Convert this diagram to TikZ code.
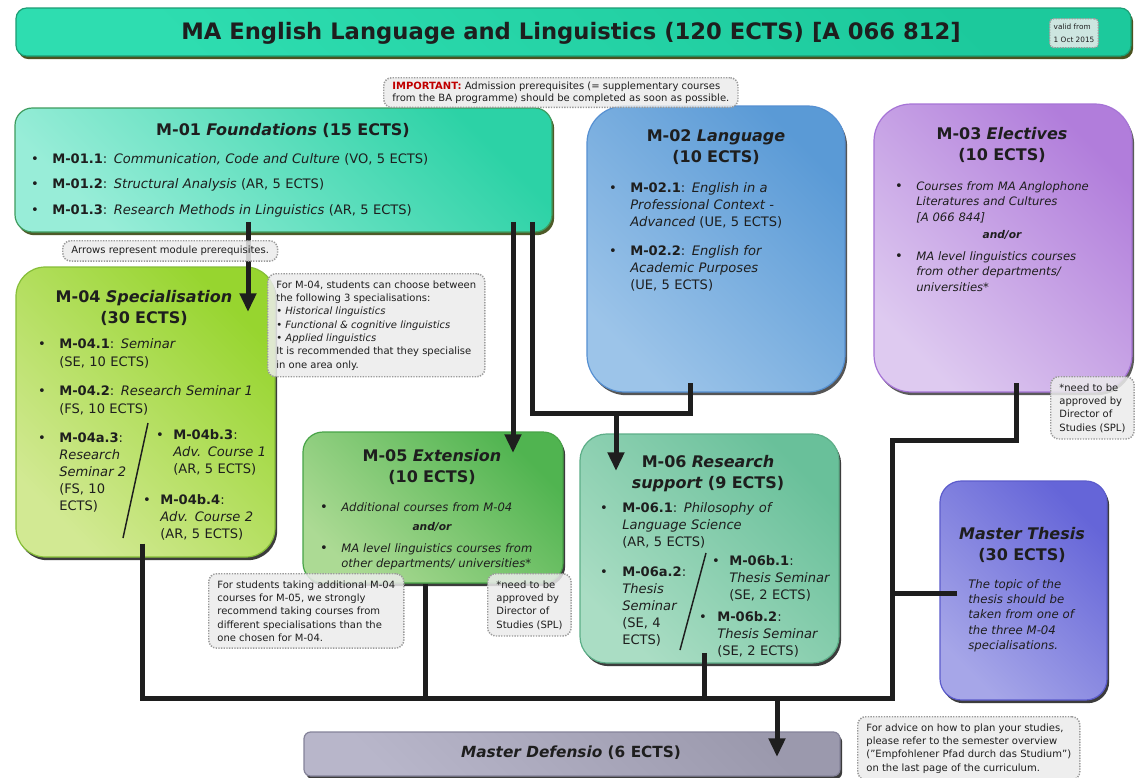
\documentclass[tikz,border=0pt]{standalone}
\usepackage{fontspec}
\setmainfont{DejaVu Sans}
\usepackage{tikz}
\usetikzlibrary{arrows.meta,fit,shadows}

\definecolor{ttldk}{HTML}{1CC99C}
\definecolor{ttllt}{HTML}{2EDDB0}
\definecolor{ttlln}{HTML}{1B9E74}
\definecolor{ttlsh}{HTML}{4B5320}
\definecolor{m01dk}{HTML}{2CD2A6}
\definecolor{m01lt}{HTML}{98EDD8}
\definecolor{m01ln}{HTML}{3E9C5E}
\definecolor{m01sh}{HTML}{4E5A28}
\definecolor{m02dk}{HTML}{5A9AD6}
\definecolor{m02lt}{HTML}{9CC4E9}
\definecolor{m02ln}{HTML}{5690D2}
\definecolor{m02sh}{HTML}{555555}
\definecolor{m03dk}{HTML}{B17DDB}
\definecolor{m03lt}{HTML}{DECAF0}
\definecolor{m03ln}{HTML}{A674D6}
\definecolor{m03sh}{HTML}{5A5A5A}
\definecolor{m04dk}{HTML}{97D52F}
\definecolor{m04lt}{HTML}{D2E993}
\definecolor{m04ln}{HTML}{86BE38}
\definecolor{m04sh}{HTML}{3C3C3C}
\definecolor{m05dk}{HTML}{50B450}
\definecolor{m05lt}{HTML}{ACDA94}
\definecolor{m05ln}{HTML}{48A448}
\definecolor{m05sh}{HTML}{3C3C3C}
\definecolor{m06dk}{HTML}{69C09A}
\definecolor{m06lt}{HTML}{AADDC4}
\definecolor{m06ln}{HTML}{5DAE88}
\definecolor{m06sh}{HTML}{3C3C3C}
\definecolor{mtdk}{HTML}{6565D8}
\definecolor{mtlt}{HTML}{A6A6E8}
\definecolor{mtln}{HTML}{5C5CCC}
\definecolor{mtsh}{HTML}{3C3C3C}
\definecolor{mddk}{HTML}{9B99AD}
\definecolor{mdlt}{HTML}{B8B6CA}
\definecolor{mdln}{HTML}{85839A}
\definecolor{mdsh}{HTML}{3C3C3C}
\definecolor{notebg}{HTML}{ECECEC}
\definecolor{noteln}{HTML}{9A9A9A}
\definecolor{txtcol}{HTML}{1E1E1E}
\definecolor{impred}{HTML}{C00000}

\newcommand{\ttlfont}{\fontsize{12}{16}\selectfont\bfseries}
\newcommand{\bodyfont}{\fontsize{9.8}{12.75}\selectfont}
\newcommand{\smallbody}{\fontsize{8.7}{11.8}\selectfont}
\newcommand{\thesisfont}{\fontsize{8.8}{11.5}\selectfont}
\newcommand{\notefont}{\fontsize{7.5}{10}\selectfont}

\begin{document}
\begin{tikzpicture}[x=0.75pt, y=-0.75pt,
    modbox/.style={draw=#1ln, line width=0.9pt, top color=#1dk, bottom color=#1lt,
        shading angle=-45, inner sep=0pt,
        general shadow={fill=#1sh, shadow xshift=1.6pt, shadow yshift=-2.4pt}},
    ttl/.style={anchor=base, inner sep=0pt, align=center, text width=260pt, font=\ttlfont, text=txtcol},
    txt/.style={anchor=base west, inner sep=0pt, align=left, text width=300pt, font=\bodyfont, text=txtcol},
    bul/.style={anchor=base, inner sep=0pt, font=\bodyfont, text=txtcol},
    andor/.style={anchor=base, inner sep=0pt, font=\fontsize{8}{10}\selectfont\bfseries\itshape, text=txtcol},
    note/.style={anchor=north west, draw=noteln, fill=notebg, fill opacity=0.85, text opacity=1,
        dash pattern=on 1pt off 1pt, line width=1.1pt, rounded corners=6pt,
        inner xsep=6.5pt, inner ysep=5pt, align=left, font=\notefont, text=txtcol},
    link/.style={draw=txtcol, line width=3.75pt},
    arr/.style={link, -{Triangle[width=12pt,length=14pt]}},
    sep/.style={draw=txtcol, line width=1.1pt}]

    \useasboundingbox (0,0) rectangle (1140,778);
    \fill[white] (0,0) rectangle (1140,778);

    % Draw the title bar
    \node[modbox=ttl, rounded corners=8pt, fit={(16,8) (1131,56)}] (title) {};
    \node[font=\fontsize{17}{20}\selectfont\bfseries, text=txtcol, inner sep=0pt] (titletext) at (571,33)
        {MA English Language and Linguistics (120 ECTS) [A 066 812]};

    % Draw the module boxes
    \node[modbox=m01, rounded corners=13pt, fit={(15,108) (552,232)}] (m01) {};
    \node[modbox=m02, rounded corners=28pt, fit={(587,106) (845,392)}] (m02) {};
    \node[modbox=m03, rounded corners=28pt, fit={(874,104) (1132,392)}] (m03) {};
    \node[modbox=m04, rounded corners=22pt, fit={(16,267) (275,557)}] (m04) {};
    \node[modbox=m05, rounded corners=15pt, fit={(303,432) (563,583)}] (m05) {};
    \node[modbox=m06, rounded corners=20pt, fit={(580,434) (839,663)}] (m06) {};
    \node[modbox=mt, rounded corners=16pt, fit={(940,481) (1107,700)}] (mt) {};
    \node[modbox=md, rounded corners=5pt, fit={(304,732) (840,776)}] (mdef) {};
    \node[font=\fontsize{11.5}{14}\selectfont\bfseries, text=txtcol, inner sep=0pt] (mdeftext) at (571,753)
        {\textit{Master Defensio} (6 ECTS)};

    % M-01
    \node[ttl] (m01t) at (283,135) {M-01 \textit{Foundations} (15 ECTS)};
    \node[bul] (m01p1) at (35,163) {\textbullet};
    \node[txt] (m01a) at (52,163) {\textbf{M-01.1}: \textit{Communication, Code and Culture} (VO, 5 ECTS)};
    \node[bul] (m01p2) at (35,188) {\textbullet};
    \node[txt] (m01b) at (52,188) {\textbf{M-01.2}: \textit{Structural Analysis} (AR, 5 ECTS)};
    \node[bul] (m01p3) at (35,214) {\textbullet};
    \node[txt] (m01c) at (52,214) {\textbf{M-01.3}: \textit{Research Methods in Linguistics} (AR, 5 ECTS)};

    % M-02
    \node[ttl] (m02t) at (716,141) {M-02 \textit{Language}\\(10 ECTS)};
    \node[bul] (m02p1) at (613,192) {\textbullet};
    \node[txt] (m02a) at (630,192) {\textbf{M-02.1}: \textit{English in a}\\\textit{Professional Context -}\\\textit{Advanced} (UE, 5 ECTS)};
    \node[bul] (m02p2) at (613,255) {\textbullet};
    \node[txt] (m02b) at (630,255) {\textbf{M-02.2}: \textit{English for}\\\textit{Academic Purposes}\\(UE, 5 ECTS)};

    % M-03
    \node[ttl] (m03t) at (1002,139) {M-03 \textit{Electives}\\(10 ECTS)};
    \node[bul] (m03p1) at (899,190) {\textbullet};
    \node[txt, font=\smallbody] (m03a) at (916,190) {\textit{Courses from MA Anglophone}\\\textit{Literatures and Cultures}\\\textit{[A 066 844]}};
    \node[andor] (m03o) at (1002,238) {and/or};
    \node[bul] (m03p2) at (899,260) {\textbullet};
    \node[txt, font=\smallbody] (m03b) at (916,260) {\textit{MA level linguistics courses}\\\textit{from other departments/}\\\textit{universities*}};

    % M-04
    \node[ttl] (m04t) at (144,302) {M-04 \textit{Specialisation}\\(30 ECTS)};
    \node[bul] (m04p1) at (42,348) {\textbullet};
    \node[txt] (m04a) at (59,348) {\textbf{M-04.1}: \textit{Seminar}\\[1pt](SE, 10 ECTS)};
    \node[bul] (m04p2) at (42,395) {\textbullet};
    \node[txt] (m04b) at (59,395) {\textbf{M-04.2}: \textit{Research Seminar 1}\\[1pt](FS, 10 ECTS)};
    \node[bul] (m04p3) at (42,442) {\textbullet};
    \node[txt] (m04c) at (59,442) {\textbf{M-04a.3}:\\\textit{Research}\\\textit{Seminar 2}\\(FS, 10\\ECTS)};
    \node[bul] (m04p4) at (160,439) {\textbullet};
    \node[txt] (m04d) at (173,439) {\textbf{M-04b.3}:\\\textit{Adv. Course 1}\\(AR, 5 ECTS)};
    \node[bul] (m04p5) at (147,504) {\textbullet};
    \node[txt] (m04e) at (160,504) {\textbf{M-04b.4}:\\\textit{Adv. Course 2}\\(AR, 5 ECTS)};
    \draw[sep] (148,423) -- (123,538);

    % M-05
    \node[ttl] (m05t) at (432,461) {M-05 \textit{Extension}\\(10 ECTS)};
    \node[bul] (m05p1) at (324,511) {\textbullet};
    \node[txt, font=\smallbody] (m05a) at (341,511) {\textit{Additional courses from M-04}};
    \node[andor] (m05o) at (432,530) {and/or};
    \node[bul] (m05p2) at (324,552) {\textbullet};
    \node[txt, font=\smallbody] (m05b) at (341,552) {\textit{MA level linguistics courses from}\\\textit{other departments/ universities*}};

    % M-06
    \node[ttl] (m06t) at (708,467) {M-06 \textit{Research}\\\textit{support} (9 ECTS)};
    \node[bul] (m06p1) at (604,512) {\textbullet};
    \node[txt] (m06a) at (622,512) {\textbf{M-06.1}: \textit{Philosophy of}\\\textit{Language Science}\\(AR, 5 ECTS)};
    \node[bul] (m06p2) at (604,576) {\textbullet};
    \node[txt] (m06b) at (622,576) {\textbf{M-06a.2}:\\\textit{Thesis}\\\textit{Seminar}\\(SE, 4\\ECTS)};
    \node[bul] (m06p3) at (716,565) {\textbullet};
    \node[txt] (m06c) at (729,565) {\textbf{M-06b.1}:\\\textit{Thesis Seminar}\\(SE, 2 ECTS)};
    \node[bul] (m06p4) at (703,621) {\textbullet};
    \node[txt] (m06d) at (717,621) {\textbf{M-06b.2}:\\\textit{Thesis Seminar}\\(SE, 2 ECTS)};
    \draw[sep] (706,553) -- (680,650);

    % Master thesis
    \node[ttl] (mtt) at (1022,539) {\textit{Master Thesis}\\(30 ECTS)};
    \node[txt, font=\thesisfont] (mtx) at (968,588) {\textit{The topic of the}\\\textit{thesis should be}\\\textit{taken from one of}\\\textit{the three M-04}\\\textit{specialisations.}};

    % Junctions of the prerequisite lines
    \coordinate (a04) at (248,312);
    \coordinate (a05) at (513,453);
    \coordinate (j1) at (532,413);
    \coordinate (j2) at (690,413);
    \coordinate (j3) at (616,413);
    \coordinate (a06) at (616,471);
    \coordinate (j4) at (1016,440);
    \coordinate (j5) at (892,440);
    \coordinate (j6) at (892,698);
    \coordinate (j7) at (892,593);
    \coordinate (j8) at (142,698);
    \coordinate (j9) at (425,698);
    \coordinate (j10) at (704,698);
    \coordinate (j11) at (777,698);
    \coordinate (a07) at (777,757);

    % Draw the prerequisite lines
    \draw[arr] ([yshift=8pt]m01.south -| a04) -- (a04);
    \draw[arr] ([yshift=8pt]m01.south -| a05) -- (a05);
    \draw[link] ([yshift=8pt]m01.south -| j1) -- (j1) -- (j2) -- ([yshift=7pt]m02.south -| j2);
    \draw[arr] (j3) -- (a06);
    \draw[link] ([yshift=10.5pt]m04.south -| j8) -- (j8) -- (j6) -- (j5) -- (j4) -- ([yshift=7.5pt]m03.south -| j4);
    \draw[link] ([xshift=13.5pt]mt.west |- j7) -- (j7);
    \draw[link] (m05.south -| j9) -- (j9);
    \draw[link] ([yshift=8pt]m06.south -| j10) -- (j10);
    \draw[arr] (j11) -- (a07);

    % Draw the notes
    \node[note, font=\fontsize{7.5}{9}\selectfont, inner ysep=3pt] (nimp) at (383,77)
        {{\color{impred}\textbf{IMPORTANT:}} Admission prerequisites (= supplementary courses\\from the BA programme) should be completed as soon as possible.};
    \node[note, font=\fontsize{5.5}{9.5}\selectfont, inner xsep=3pt, inner ysep=4pt, rounded corners=3pt] (nvalid) at (1049,18)
        {valid from\\1 Oct 2015};
    \node[note, inner ysep=4pt] (narrows) at (62,240) {Arrows represent module prerequisites.};
    \node[note] (nspec) at (267,273)
        {For M-04, students can choose between\\the following 3 specialisations:\\\textbullet\ \textit{Historical linguistics}\\\textbullet\ \textit{Functional \& cognitive linguistics}\\\textbullet\ \textit{Applied linguistics}\\It is recommended that they specialise\\in one area only.};
    \node[note] (next) at (208,573)
        {For students taking additional M-04\\courses for M-05, we strongly\\recommend taking courses from\\different specialisations than the\\one chosen for M-04.};
    \node[note] (nspla) at (487,573) {*need to be\\approved by\\Director of\\Studies (SPL)};
    \node[note] (nsplb) at (1050,376) {*need to be\\approved by\\Director of\\Studies (SPL)};
    \node[note] (nadv) at (857,716)
        {For advice on how to plan your studies,\\please refer to the semester overview\\("Empfohlener Pfad durch das Studium")\\on the last page of the curriculum.};

\end{tikzpicture}
\end{document}
